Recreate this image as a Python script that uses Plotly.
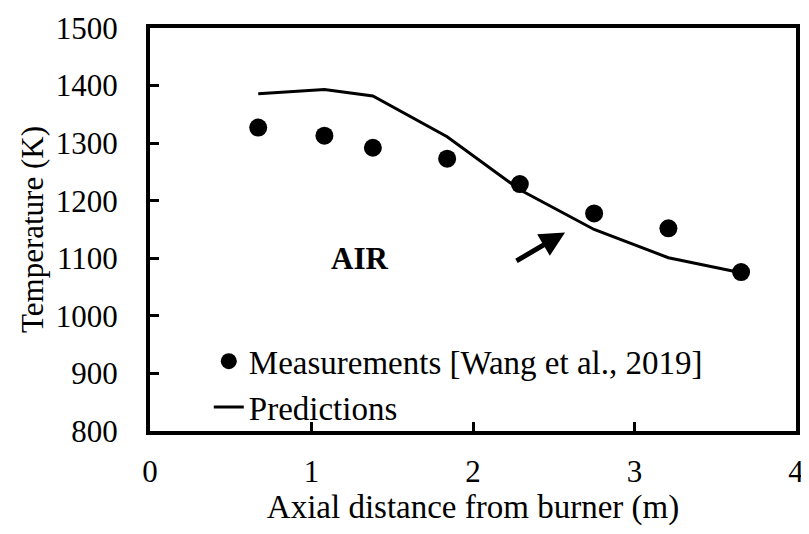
import plotly.graph_objects as go

# Data
meas_x = [0.67, 1.08, 1.38, 1.84, 2.29, 2.75, 3.21, 3.66]
meas_T = [1327, 1313, 1292, 1273, 1229, 1178, 1152, 1076]
pred_x = [0.67, 1.08, 1.38, 1.84, 2.29, 2.75, 3.21, 3.66]
pred_T = [1386, 1393, 1382, 1311, 1219, 1150, 1101, 1075]
x_ticks = [0, 1, 2, 3, 4]
y_ticks = [800, 900, 1000, 1100, 1200, 1300, 1400, 1500]
arrow_tail = (2.26, 1094)
arrow_head = (2.57, 1145)

FONT = "Liberation Serif, Times New Roman, serif"

fig = go.Figure()
fig.add_trace(go.Scatter(
    x=meas_x, y=meas_T, mode="markers",
    name="Measurements [Wang et al., 2019]",
    marker=dict(color="black", size=18, symbol="circle"),
))
fig.add_trace(go.Scatter(
    x=pred_x, y=pred_T, mode="lines", name="Predictions",
    line=dict(color="black", width=3),
))

fig.add_annotation(x=1.3, y=1100, text="<b>AIR</b>", showarrow=False,
                   font=dict(family=FONT, size=31, color="black"))
fig.add_annotation(x=arrow_head[0], y=arrow_head[1], ax=arrow_tail[0], ay=arrow_tail[1],
                   axref="x", ayref="y", xref="x", yref="y", text="",
                   showarrow=True, arrowhead=2, arrowsize=1.0, arrowwidth=5,
                   arrowcolor="black")

fig.update_layout(
    width=809, height=534,
    margin=dict(l=141.5, r=21, t=20, b=110.5),
    paper_bgcolor="white", plot_bgcolor="white",
    font=dict(family=FONT, size=31, color="black"),
    showlegend=True,
    legend=dict(x=0.091, y=0.2426, xanchor="left", yanchor="top",
                bgcolor="rgba(0,0,0,0)", font=dict(family=FONT, size=33),
                itemwidth=30),
    xaxis=dict(range=[0, 4], tickvals=x_ticks, showline=True, mirror=True,
               linecolor="black", linewidth=4, ticks="inside", ticklen=9,
               tickwidth=3, tickcolor="black", showgrid=False, zeroline=False,
               automargin=False, ticklabeloverflow="allow",
               ticklabelstandoff=10, tickfont=dict(family=FONT, size=31),
               title=dict(text="Axial distance from burner (m)", standoff=0,
                          font=dict(family=FONT, size=33))),
    yaxis=dict(range=[800, 1500], tickvals=y_ticks, showline=True, mirror=True,
               linecolor="black", linewidth=4, ticks="inside", ticklen=9,
               tickwidth=3, tickcolor="black", showgrid=False, zeroline=False,
               automargin=False, ticklabeloverflow="allow",
               ticklabelstandoff=22, tickfont=dict(family=FONT, size=31),
               title=dict(text="Temperature (K)", standoff=4,
                          font=dict(family=FONT, size=31))),
)

fig.write_html("out.html")
